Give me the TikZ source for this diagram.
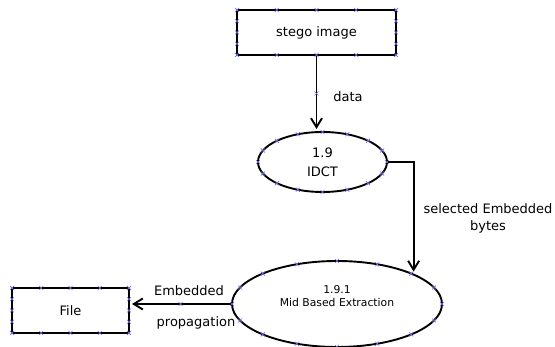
\documentclass[tikz,border=0pt]{standalone}
\usepackage{fontspec}
\setmainfont{DejaVu Sans}
\usetikzlibrary{arrows.meta,shapes.geometric,calc}
\definecolor{cpblue}{RGB}{110,110,235}
\newcommand{\cpx}[1]{\draw[cpt] (#1) +(-2pt,-2pt) -- +(2pt,2pt) +(-2pt,2pt) -- +(2pt,-2pt);}

\begin{document}
\begin{tikzpicture}[x=1pt,y=1pt,>={Straight Barb[length=9pt,width=11pt]},line width=1.9pt,
  box/.style={draw,rectangle,minimum width=#1,minimum height=45pt,inner sep=0pt,outer sep=0pt,font=\fontsize{13}{18}\selectfont},
  proc/.style={draw,ellipse,inner sep=0pt,outer sep=0pt,align=center},
  cpt/.style={draw=cpblue,line width=0.6pt},
  lbl/.style={font=\fontsize{13}{17}\selectfont,align=center}]
\useasboundingbox (0,0) rectangle (555,347);
\node[box=159pt] (stego) at (316.5,314.5) {stego image};
\node[proc,minimum width=129pt,minimum height=60pt,font=\fontsize{13}{19}\selectfont] (idct) at (322.5,185) {1.9\\IDCT};
\node[proc,minimum width=210pt,minimum height=86pt] (midext) at (337,43) {};
\node[font=\fontsize{10.8}{13}\selectfont,align=center] (midtxt) at (337,50.5) {1.9.1\\Mid Based Extraction};
\node[box=117pt] (file) at (70.5,36.5) {File};
% flows
\draw[->,shorten >=3pt] (stego.south) -- (stego.south |- idct.north);
\draw[->,shorten >=3pt] (idct.east) -| (midext.21);
\draw[->,shorten >=3pt] (midext.west) -- (midext.west -| file.east);
\node[lbl] (datalbl) at (348,250) {data};
\node[lbl] (sellbl) at (488,129) {selected Embedded\\bytes};
\node[lbl] (emblbl) at (189,56) {Embedded};
\node[lbl] (proplbl) at (196,24) {propagation};
% connection points
\foreach \n in {stego,file}{
  \foreach \f in {0,0.25,0.5,0.75,1}{
    \cpx{$(\n.north west)!\f!(\n.north east)$}
    \cpx{$(\n.south west)!\f!(\n.south east)$}
    \cpx{$(\n.north west)!\f!(\n.south west)$}
    \cpx{$(\n.north east)!\f!(\n.south east)$}
  }
}
\foreach \a in {0,22.5,...,337.5}{
  \cpx{$(idct.center)+({64.5*cos(\a)},{30*sin(\a)})$}
  \cpx{$(midext.center)+({105*cos(\a)},{43*sin(\a)})$}
}
\cpx{$(stego.south)!0.5!(stego.south |- idct.north)$}
\cpx{$(midext.west)!0.5!(midext.west -| file.east)$}
\end{tikzpicture}
\end{document}
